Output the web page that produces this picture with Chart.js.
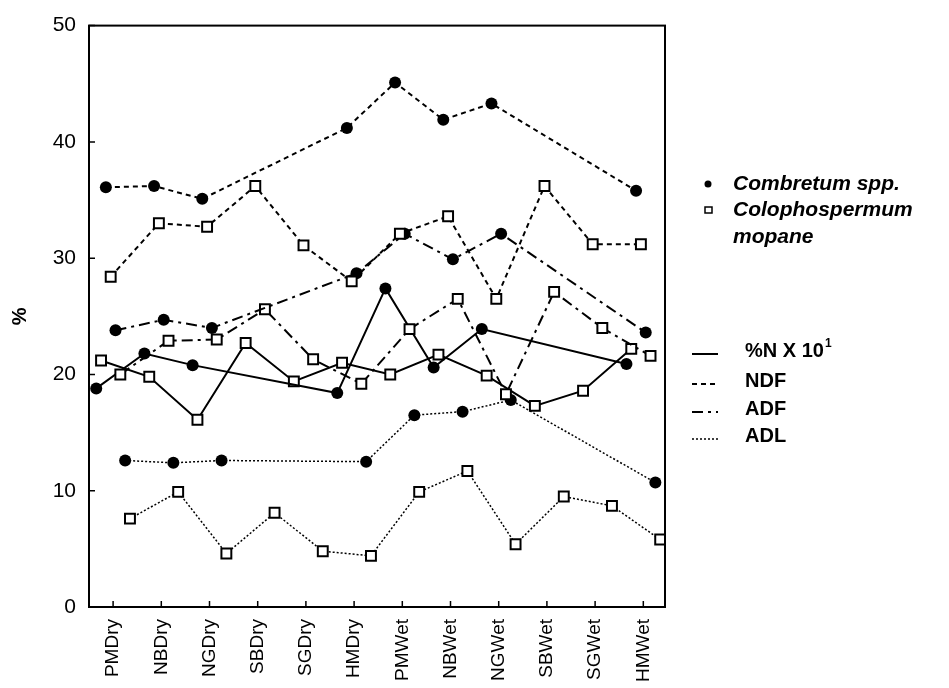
<!DOCTYPE html>
<html>
<head>
<meta charset="utf-8">
<script src="https://cdn.jsdelivr.net/npm/chart.js@4.4.0/dist/chart.umd.min.js"></script>
<style>
html, body { margin: 0; padding: 0; background: #fff; }
</style>
</head>
<body>
<canvas id="chart" width="949" height="688"></canvas>
<script>
const sites = ['PMDry', 'NBDry', 'NGDry', 'SBDry', 'SGDry', 'HMDry', 'PMWet', 'NBWet', 'NGWet', 'SBWet', 'SGWet', 'HMWet'];
const yTicks = [0, 10, 20, 30, 40, 50];

// Combretum spp. (not sampled at SB and SG)
const combN   = [18.8, 21.8, 20.8, null, null, 18.4, 27.4, 20.6, 23.9, null, null, 20.9];
const combNDF = [36.1, 36.2, 35.1, null, null, 41.2, 45.1, 41.9, 43.3, null, null, 35.8];
const combADF = [23.8, 24.7, 24.0, null, null, 28.7, 32.1, 29.9, 32.1, null, null, 23.6];
const combADL = [12.6, 12.4, 12.6, null, null, 12.5, 16.5, 16.8, 17.8, null, null, 10.7];

// Colophospermum mopane
const mopN   = [21.2, 19.8, 16.1, 22.7, 19.4, 21.0, 20.0, 21.7, 19.9, 17.3, 18.6, 22.2];
const mopNDF = [28.4, 33.0, 32.7, 36.2, 31.1, 28.0, 32.1, 33.6, 26.5, 36.2, 31.2, 31.2];
const mopADF = [20.0, 22.9, 23.0, 25.6, 21.3, 19.2, 23.9, 26.5, 18.3, 27.1, 24.0, 21.6];
const mopADL = [7.6, 9.9, 4.6, 8.1, 4.8, 4.4, 9.9, 11.7, 5.4, 9.5, 8.7, 5.8];

const speciesLabels = ['Combretum spp.', 'Colophospermum', 'mopane'];
const measureLabels = ['%N X 10', 'NDF', 'ADF', 'ADL'];

// each series is nudged sideways a little so markers don't sit on top of each other
const nudge = { combN: -0.35, mopN: -0.25, combNDF: -0.15, mopNDF: -0.05,
                combADF: 0.05, mopADF: 0.15, combADL: 0.25, mopADL: 0.35 };

const dashes = { N: [], NDF: [5, 4], ADF: [11, 5, 3, 5], ADL: [2, 2] };

function points(vals, shift) {
    return vals.map((v, i) => v == null ? null : { x: i + shift, y: v }).filter(p => p);
}

function combDataset(vals, shift, dash, lw) {
    return {
        data: points(vals, shift),
        showLine: true,
        borderColor: '#000',
        borderWidth: lw,
        borderDash: dash,
        pointStyle: 'circle',
        pointRadius: 6,
        pointBackgroundColor: '#000',
        pointBorderColor: '#000',
        pointBorderWidth: 0,
        tension: 0
    };
}

function mopDataset(vals, shift, dash, lw) {
    return {
        data: points(vals, shift),
        showLine: true,
        borderColor: '#000',
        borderWidth: lw,
        borderDash: dash,
        pointStyle: 'rect',
        pointRadius: 7,
        pointBackgroundColor: '#fff',
        pointBorderColor: '#000',
        pointBorderWidth: 2,
        tension: 0
    };
}

const framePlugin = {
    id: 'frame',
    afterDraw(chart) {
        const ctx = chart.ctx;
        const a = chart.chartArea;
        const xs = chart.scales.x;
        const ys = chart.scales.y;
        ctx.save();
        ctx.strokeStyle = '#000';
        ctx.lineWidth = 2;
        ctx.setLineDash([]);
        ctx.strokeRect(a.left, a.top, a.right - a.left, a.bottom - a.top);
        ctx.lineWidth = 1.5;
        ctx.beginPath();
        sites.forEach((s, i) => {
            const px = xs.getPixelForValue(i);
            ctx.moveTo(px, a.bottom);
            ctx.lineTo(px, a.bottom - 6);
        });
        yTicks.forEach(v => {
            const py = ys.getPixelForValue(v);
            ctx.moveTo(a.left, py);
            ctx.lineTo(a.left + 6, py);
        });
        ctx.stroke();
        ctx.restore();
    }
};

const legendPlugin = {
    id: 'sideLegend',
    afterDraw(chart) {
        const ctx = chart.ctx;
        ctx.save();
        ctx.fillStyle = '#000';
        ctx.strokeStyle = '#000';
        ctx.textBaseline = 'middle';

        // species markers
        ctx.beginPath();
        ctx.arc(708, 184, 3.5, 0, Math.PI * 2);
        ctx.fill();
        ctx.lineWidth = 1.5;
        ctx.strokeRect(705, 207, 7, 6);

        ctx.font = 'italic bold 21px "Liberation Sans", Arial, sans-serif';
        ctx.fillText(speciesLabels[0], 733, 184);
        ctx.fillText(speciesLabels[1], 733, 210);
        ctx.fillText(speciesLabels[2], 733, 237);

        // line styles
        const rows = [351, 381, 409, 436];
        const keys = ['N', 'NDF', 'ADF', 'ADL'];
        ctx.font = 'bold 20px "Liberation Sans", Arial, sans-serif';
        rows.forEach((y, k) => {
            ctx.beginPath();
            ctx.setLineDash(dashes[keys[k]]);
            ctx.lineWidth = keys[k] == 'ADL' ? 1.5 : 2;
            ctx.moveTo(692, y + 3);
            ctx.lineTo(718, y + 3);
            ctx.stroke();
            ctx.fillText(measureLabels[k], 745, y);
        });
        ctx.setLineDash([]);
        const w = ctx.measureText(measureLabels[0]).width;
        ctx.font = 'bold 12px "Liberation Sans", Arial, sans-serif';
        ctx.fillText('1', 745 + w + 1, rows[0] - 7);
        ctx.restore();
    }
};

const ctx = document.getElementById('chart').getContext('2d');
new Chart(ctx, {
    type: 'scatter',
    data: {
        datasets: [
            combDataset(combNDF, nudge.combNDF, dashes.NDF, 2),
            mopDataset(mopNDF, nudge.mopNDF, dashes.NDF, 2),
            combDataset(combADF, nudge.combADF, dashes.ADF, 2),
            mopDataset(mopADF, nudge.mopADF, dashes.ADF, 2),
            combDataset(combADL, nudge.combADL, dashes.ADL, 1.5),
            mopDataset(mopADL, nudge.mopADL, dashes.ADL, 1.5),
            combDataset(combN, nudge.combN, dashes.N, 2),
            mopDataset(mopN, nudge.mopN, dashes.N, 2)
        ]
    },
    options: {
        responsive: false,
        animation: false,
        layout: { padding: { top: 20, right: 284, left: 0, bottom: 0 } },
        plugins: {
            legend: { display: false },
            tooltip: { enabled: false }
        },
        scales: {
            x: {
                type: 'linear',
                min: -0.5,
                max: 11.45,
                afterBuildTicks: s => { s.ticks = sites.map((n, i) => ({ value: i })); },
                afterFit: s => { s.height = 81; },
                grid: { display: false, drawTicks: false },
                border: { display: false },
                ticks: {
                    autoSkip: false,
                    minRotation: 90,
                    maxRotation: 90,
                    padding: 12,
                    color: '#000',
                    font: { family: '"Liberation Sans", Arial, sans-serif', size: 19 },
                    callback: v => sites[v]
                }
            },
            y: {
                min: 0,
                max: 50,
                afterBuildTicks: s => { s.ticks = yTicks.map(v => ({ value: v })); },
                afterFit: s => { s.width = 89; },
                grid: { display: false, drawTicks: false },
                border: { display: false },
                ticks: {
                    padding: 13,
                    color: '#000',
                    font: { family: '"Liberation Sans", Arial, sans-serif', size: 21 }
                },
                title: {
                    display: true,
                    text: '%',
                    color: '#000',
                    padding: { top: 8, bottom: 0 },
                    font: { family: '"Liberation Sans", Arial, sans-serif', size: 20, weight: 'bold' }
                }
            }
        }
    },
    plugins: [framePlugin, legendPlugin]
});
</script>
</body>
</html>
